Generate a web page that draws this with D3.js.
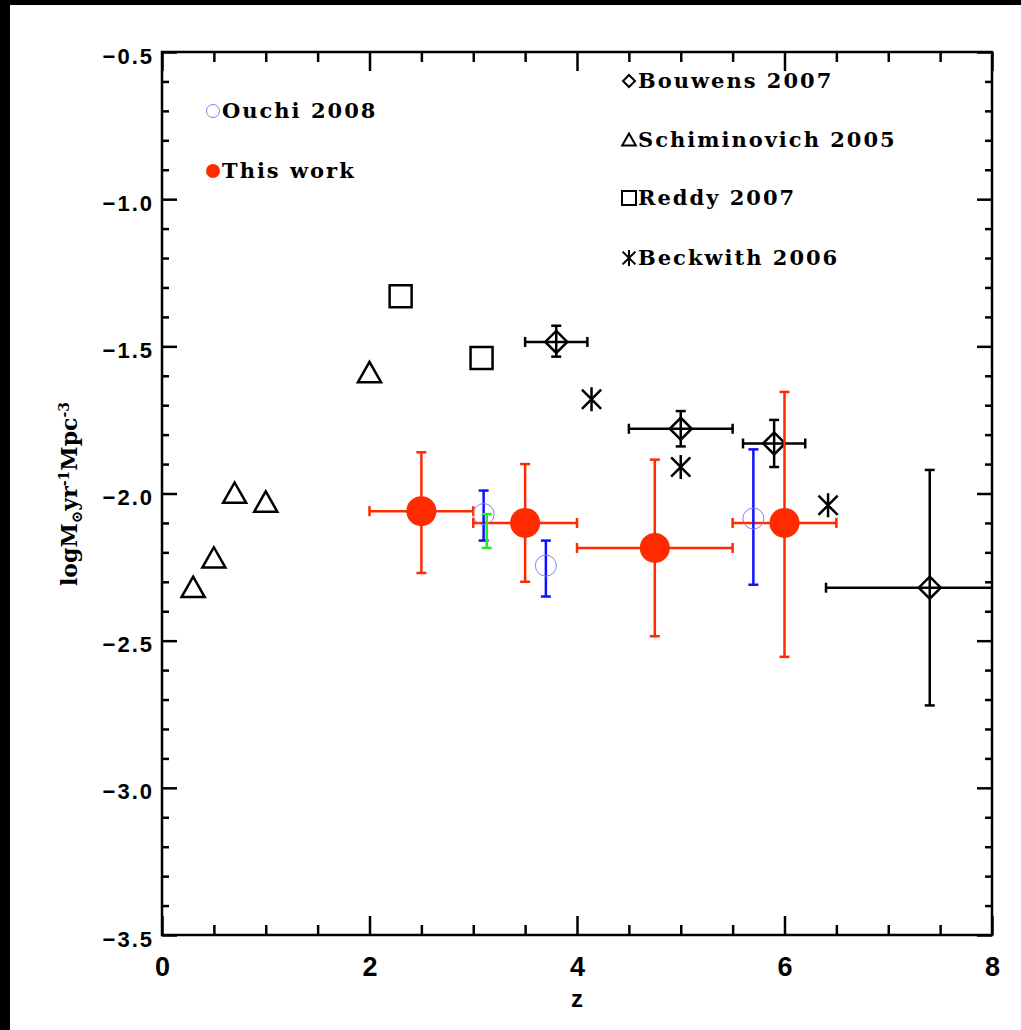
<!DOCTYPE html>
<html>
<head>
<meta charset="utf-8">
<script src="https://cdn.jsdelivr.net/npm/d3@7/dist/d3.min.js"></script>
<style>
  body { margin: 0; background: #fff; }
  svg { display: block; }
</style>
</head>
<body>
<div id="chart"></div>
<script>
// SFR density vs redshift

// This work (red filled circles, x and y error bars)
const thisWork = [
  { z: 2.5,  sfr: -2.06,  zlo: 2.0, zhi: 3.0, lo: -2.27,  hi: -1.86 },
  { z: 3.5,  sfr: -2.10,  zlo: 3.0, zhi: 4.0, lo: -2.30,  hi: -1.90 },
  { z: 4.75, sfr: -2.185, zlo: 4.0, zhi: 5.5, lo: -2.485, hi: -1.885 },
  { z: 6.0,  sfr: -2.10,  zlo: 5.5, zhi: 6.5, lo: -2.555, hi: -1.655 }
];

// Ouchi 2008 (open blue circles, y error bars)
const ouchi = [
  { z: 3.1,  sfr: -2.07,  lo: -2.16, hi: -1.99 },
  { z: 3.7,  sfr: -2.245, lo: -2.35, hi: -2.16 },
  { z: 5.7,  sfr: -2.085, lo: -2.31, hi: -1.85 }
];

// green error bar next to Ouchi z~3.1
const greenBar = [
  { z: 3.13, lo: -2.185, hi: -2.07 }
];

// Bouwens 2007 (diamonds with error bars)
const bouwens = [
  { z: 3.8, sfr: -1.485, zlo: 3.5, zhi: 4.1, lo: -1.535, hi: -1.43 },
  { z: 5.0, sfr: -1.78,  zlo: 4.5, zhi: 5.5, lo: -1.84,  hi: -1.72 },
  { z: 5.9, sfr: -1.83,  zlo: 5.6, zhi: 6.2, lo: -1.91,  hi: -1.75 },
  { z: 7.4, sfr: -2.32,  zlo: 6.4, zhi: 8.5, lo: -2.72,  hi: -1.92 }
];

// Schiminovich 2005 (triangles)
const schimZ   = [0.3, 0.5, 0.7, 1.0, 2.0];
const schimSfr = [-2.32, -2.22, -2.0, -2.03, -1.59];

// Reddy 2007 (squares)
const reddyZ   = [2.3, 3.08];
const reddySfr = [-1.33, -1.54];

// Beckwith 2006 (asterisks)
const beckZ   = [4.14, 5.0, 6.42];
const beckSfr = [-1.68, -1.91, -2.04];

// axes
const xMajor = [0, 2, 4, 6, 8];
const yMajor = [-0.5, -1.0, -1.5, -2.0, -2.5, -3.0, -3.5];

const RED = "#ff2a00", BLUE = "#1010ff", LBLUE = "#8080f0", GREEN = "#22ee22";

function createChart() {
    const W = 1021, H = 1030;
    const margin = { top: 52, left: 162 };
    const width = 830, height = 883;

    const svg = d3.select("#chart").append("svg")
        .attr("width", W).attr("height", H);

    svg.append("rect").attr("width", W).attr("height", H).attr("fill", "#fff");
    // black frame strips
    svg.append("rect").attr("x", 0).attr("y", 0).attr("width", 10).attr("height", H).attr("fill", "#000");
    svg.append("rect").attr("x", 0).attr("y", 0).attr("width", W).attr("height", 5).attr("fill", "#000");

    const g = svg.append("g").attr("transform", `translate(${margin.left},${margin.top})`);

    const x = d3.scaleLinear().domain([0, 8]).range([0, width]);
    const y = d3.scaleLinear().domain([-3.5, -0.5]).range([height, 0]);

    g.append("defs").append("clipPath").attr("id", "clip")
        .append("rect").attr("width", width).attr("height", height);

    // ticks
    const xMinor = d3.range(0, 8.01, 0.5).filter(v => !xMajor.includes(v));
    const yMinor = d3.range(-35, -4, 1).map(v => v / 10).filter(v => !yMajor.includes(v));

    const tickStyle = sel => {
        sel.select(".domain").remove();
        sel.selectAll("line").attr("stroke", "#000").attr("stroke-width", 2.5);
    };

    g.append("g").attr("transform", `translate(0,${height})`)
        .call(d3.axisBottom(x).tickValues(xMinor).tickSize(-10).tickFormat(""))
        .call(tickStyle);
    g.append("g")
        .call(d3.axisTop(x).tickValues(xMinor).tickSize(-10).tickFormat(""))
        .call(tickStyle);
    g.append("g")
        .call(d3.axisTop(x).tickValues(xMajor).tickSize(-19).tickFormat(""))
        .call(tickStyle);
    g.append("g")
        .call(d3.axisLeft(y).tickValues(yMinor).tickSize(-7).tickFormat(""))
        .call(tickStyle);
    g.append("g").attr("transform", `translate(${width},0)`)
        .call(d3.axisRight(y).tickValues(yMinor).tickSize(-7).tickFormat(""))
        .call(tickStyle);
    g.append("g").attr("transform", `translate(${width},0)`)
        .call(d3.axisRight(y).tickValues(yMajor).tickSize(-15).tickFormat(""))
        .call(tickStyle);

    // labelled axes
    const xAxis = g.append("g").attr("transform", `translate(0,${height})`)
        .call(d3.axisBottom(x).tickValues(xMajor).tickSizeInner(-19).tickSizeOuter(0).tickPadding(22)
            .tickFormat(d3.format("d")))
        .call(tickStyle);
    xAxis.selectAll("text")
        .attr("fill", "#000")
        .style("font-family", "'Liberation Sans Narrow', 'Liberation Sans', sans-serif")
        .style("font-weight", "bold")
        .style("font-size", "27px");

    const yAxis = g.append("g")
        .call(d3.axisLeft(y).tickValues(yMajor).tickSizeInner(-15).tickSizeOuter(0).tickPadding(8)
            .tickFormat(d => d3.format(".1f")(d).replace("-", "\u2212")))
        .call(tickStyle);
    yAxis.selectAll("text")
        .attr("fill", "#000")
        .attr("dy", "0.5em")
        .style("font-family", "'Liberation Sans', sans-serif")
        .style("font-weight", "bold")
        .style("font-size", "22px")
        .style("letter-spacing", "2px");

    // frame
    g.append("rect").attr("width", width).attr("height", height)
        .attr("fill", "none").attr("stroke", "#000").attr("stroke-width", 2.5);

    // axis titles
    svg.append("text")
        .attr("x", margin.left + x(4)).attr("y", 1007)
        .attr("text-anchor", "middle")
        .style("font-family", "'Liberation Sans Narrow', 'Liberation Sans', sans-serif")
        .style("font-weight", "bold").style("font-size", "24px")
        .text("z");

    const yl = svg.append("text")
        .attr("transform", "translate(77,494) rotate(-90)")
        .attr("text-anchor", "middle")
        .style("font-family", "'DejaVu Serif', serif")
        .style("font-weight", "bold").style("font-size", "22px");
    yl.append("tspan").text("logM");
    yl.append("tspan").attr("dy", 5).style("font-size", "15px").text("\u2299");
    yl.append("tspan").attr("dy", -5).text("yr");
    yl.append("tspan").attr("dy", -8).style("font-size", "14px").text("-1");
    yl.append("tspan").attr("dy", 8).text("Mpc");
    yl.append("tspan").attr("dy", -8).style("font-size", "14px").text("-3");

    const plot = g.append("g").attr("clip-path", "url(#clip)");
    const cap = 5;

    function errorBars(sel, data, color, sw) {
        const gg = sel.append("g").attr("stroke", color).attr("stroke-width", sw).attr("fill", "none");
        data.forEach(d => {
            gg.append("line").attr("x1", x(d.z)).attr("x2", x(d.z)).attr("y1", y(d.lo)).attr("y2", y(d.hi));
            gg.append("line").attr("x1", x(d.z) - cap).attr("x2", x(d.z) + cap).attr("y1", y(d.lo)).attr("y2", y(d.lo));
            gg.append("line").attr("x1", x(d.z) - cap).attr("x2", x(d.z) + cap).attr("y1", y(d.hi)).attr("y2", y(d.hi));
            if (d.zlo !== undefined) {
                gg.append("line").attr("x1", x(d.zlo)).attr("x2", x(d.zhi)).attr("y1", y(d.sfr)).attr("y2", y(d.sfr));
                gg.append("line").attr("x1", x(d.zlo)).attr("x2", x(d.zlo)).attr("y1", y(d.sfr) - cap).attr("y2", y(d.sfr) + cap);
                gg.append("line").attr("x1", x(d.zhi)).attr("x2", x(d.zhi)).attr("y1", y(d.sfr) - cap).attr("y2", y(d.sfr) + cap);
            }
        });
    }

    const diamond = s => `M0,${-s}L${s},0L0,${s}L${-s},0Z`;
    const triangle = s => `M0,${-s}L${s * 1.05},${s * 0.85}L${-s * 1.05},${s * 0.85}Z`;
    const square = s => `M${-s},${-s}H${s}V${s}H${-s}Z`;
    const asterisk = s => {
        const a = s * 0.8;
        return `M0,${-s}V${s}M${-a},${-a}L${a},${a}M${a},${-a}L${-a},${a}`;
    };

    // Bouwens
    errorBars(plot, bouwens, "#000", 2.5);
    plot.selectAll(".bouwens").data(bouwens).enter().append("path")
        .attr("transform", d => `translate(${x(d.z)},${y(d.sfr)})`)
        .attr("d", diamond(11)).attr("fill", "none").attr("stroke", "#000").attr("stroke-width", 2.5);

    // Schiminovich
    plot.selectAll(".schim").data(schimZ).enter().append("path")
        .attr("transform", (d, i) => `translate(${x(d)},${y(schimSfr[i])})`)
        .attr("d", triangle(11)).attr("fill", "none").attr("stroke", "#000").attr("stroke-width", 2.5)
        .attr("stroke-linejoin", "miter");

    // Reddy
    plot.selectAll(".reddy").data(reddyZ).enter().append("path")
        .attr("transform", (d, i) => `translate(${x(d)},${y(reddySfr[i])})`)
        .attr("d", square(11)).attr("fill", "none").attr("stroke", "#000").attr("stroke-width", 2.5);

    // Beckwith
    plot.selectAll(".beck").data(beckZ).enter().append("path")
        .attr("transform", (d, i) => `translate(${x(d)},${y(beckSfr[i])})`)
        .attr("d", asterisk(12)).attr("fill", "none").attr("stroke", "#000").attr("stroke-width", 2.5);

    // This work
    errorBars(plot, thisWork, RED, 2.5);
    plot.selectAll(".tw").data(thisWork).enter().append("circle")
        .attr("cx", d => x(d.z)).attr("cy", d => y(d.sfr)).attr("r", 15).attr("fill", RED);

    // Ouchi
    errorBars(plot, ouchi, BLUE, 2.5);
    plot.selectAll(".ouchi").data(ouchi).enter().append("circle")
        .attr("cx", d => x(d.z)).attr("cy", d => y(d.sfr)).attr("r", 10.5)
        .attr("fill", "none").attr("stroke", LBLUE).attr("stroke-width", 1);
    errorBars(plot, greenBar, GREEN, 2.5);

    // legends
    const legFont = sel => sel
        .style("font-family", "'DejaVu Serif', serif")
        .style("font-weight", "bold")
        .style("font-size", "21px")
        .style("letter-spacing", "2px")
        .attr("fill", "#000");

    const leftLeg = [
        { label: "Ouchi 2008", y: 118, kind: "ouchi" },
        { label: "This work", y: 178, kind: "tw" }
    ];
    leftLeg.forEach(d => {
        if (d.kind === "ouchi") {
            svg.append("circle").attr("cx", 213).attr("cy", d.y - 7).attr("r", 6.5)
                .attr("fill", "none").attr("stroke", LBLUE).attr("stroke-width", 1);
        } else {
            svg.append("circle").attr("cx", 213).attr("cy", d.y - 7).attr("r", 7).attr("fill", RED);
        }
        svg.append("text").attr("x", 222).attr("y", d.y).text(d.label).call(legFont);
    });

    const rightLeg = [
        { label: "Bouwens 2007", y: 88, sym: diamond(6) },
        { label: "Schiminovich 2005", y: 147, sym: triangle(6.5) },
        { label: "Reddy 2007", y: 205, sym: square(7) },
        { label: "Beckwith 2006", y: 265, sym: asterisk(8) }
    ];
    rightLeg.forEach(d => {
        svg.append("path").attr("transform", `translate(629,${d.y - 7})`)
            .attr("d", d.sym).attr("fill", "none").attr("stroke", "#000").attr("stroke-width", 2);
        svg.append("text").attr("x", 638).attr("y", d.y).text(d.label).call(legFont);
    });
}

createChart();
</script>
</body>
</html>
